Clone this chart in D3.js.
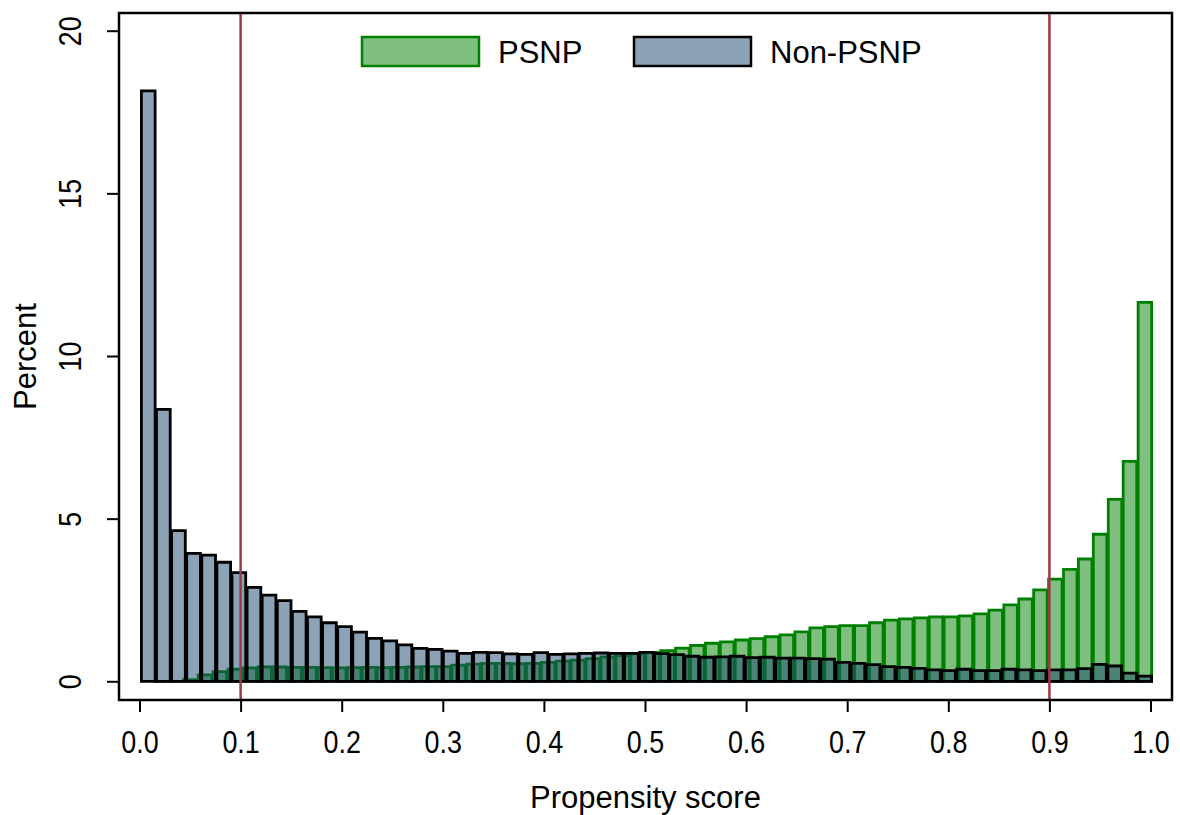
<!DOCTYPE html>
<html lang="en">
<head>
<meta charset="utf-8">
<title>propensity score overlap</title>
<script src="https://cdn.jsdelivr.net/npm/d3@7"></script>
<style>
	body { margin: 0; background: #fff; }
	text { font-family: "Liberation Sans", Arial, Helvetica, sans-serif; fill: #000; }
</style>
</head>
<body>
<script>

// percent of households per propensity-score bin (67 bins each)
var psnpStart = 0.0131, psnpEnd = 1.0018
var psnp = [0, 0, 0.05, 0.2, 0.3, 0.37, 0.41, 0.44, 0.44, 0.43,
	0.43, 0.42, 0.41, 0.42, 0.43, 0.42, 0.43, 0.44, 0.45, 0.45,
	0.5, 0.53, 0.55, 0.55, 0.54, 0.55, 0.58, 0.62, 0.65, 0.7,
	0.75, 0.79, 0.84, 0.89, 0.94, 1.02, 1.1, 1.17, 1.21, 1.27,
	1.31, 1.37, 1.43, 1.52, 1.64, 1.68, 1.71, 1.71, 1.8, 1.88,
	1.92, 1.95, 1.98, 1.98, 2.01, 2.07, 2.19, 2.35, 2.53, 2.81,
	3.14, 3.44, 3.76, 4.52, 5.59, 6.76, 11.65]

var nonStart = 0.0012, nonEnd = 1.0018
var nonPsnp = [18.15, 8.36, 4.63, 3.93, 3.88, 3.66, 3.34, 2.89, 2.65, 2.48,
	2.15, 1.98, 1.8, 1.68, 1.51, 1.32, 1.24, 1.12, 1.01, 0.98,
	0.93, 0.86, 0.89, 0.88, 0.84, 0.83, 0.88, 0.83, 0.84, 0.86,
	0.87, 0.86, 0.86, 0.89, 0.85, 0.82, 0.77, 0.74, 0.75, 0.77,
	0.73, 0.74, 0.71, 0.71, 0.7, 0.68, 0.58, 0.55, 0.51, 0.45,
	0.43, 0.4, 0.35, 0.33, 0.37, 0.33, 0.33, 0.37, 0.35, 0.33,
	0.35, 0.35, 0.39, 0.52, 0.47, 0.25, 0.16]

var xTicks = [0, 0.1, 0.2, 0.3, 0.4, 0.5, 0.6, 0.7, 0.8, 0.9, 1.0]
var yTicks = [0, 5, 10, 15, 20]
var cutoffs = [0.1, 0.9]
var names = ["PSNP", "Non-PSNP"]

var W = 1180, H = 815
var frame = {l: 119, t: 13, r: 1172, b: 700}

var svg = d3.select("body").append("svg")
	.attr("width", W).attr("height", H)

var x = d3.scaleLinear().domain([0, 1]).range([139.5, 1150.5])
var y = d3.scaleLinear().domain([0, 20]).range([681.3, 30.7])

var styles = [
	{fill: "rgba(0,128,0,0.5)", stroke: "#008000"},
	{fill: "rgba(26,71,111,0.5)", stroke: "#000"}
]

var inset = 0.7 // small gap so neighbouring outlines stay apart

function drawBars(vals, start, end, st){
	var w = (end - start) / vals.length
	svg.append("g").selectAll("path")
		.data(vals)
		.enter()
		.append("path")
		.attr("d", function(d, i){
			var x0 = x(start + i*w) + inset, x1 = x(start + (i+1)*w) - inset
			return "M" + x0 + "," + y(0) + "H" + x1 + "V" + y(d) + "H" + x0 + "Z"
		})
		.attr("fill", st.fill)
		.attr("stroke", st.stroke)
		.attr("stroke-width", 2.8)
		.attr("stroke-linejoin", "miter")
}

drawBars(psnp, psnpStart, psnpEnd, styles[0])
drawBars(nonPsnp, nonStart, nonEnd, styles[1])

// common-support cutoffs
svg.selectAll(".cut")
	.data(cutoffs)
	.enter()
	.append("line")
	.attr("x1", function(d){ return x(d) })
	.attr("x2", function(d){ return x(d) })
	.attr("y1", frame.t).attr("y2", frame.b)
	.attr("stroke", "#9e3a48")
	.attr("stroke-width", 2.5)

svg.append("rect")
	.attr("x", frame.l).attr("y", frame.t)
	.attr("width", frame.r - frame.l).attr("height", frame.b - frame.t)
	.attr("fill", "none").attr("stroke", "#000").attr("stroke-width", 2.5)

// x axis
var xAxis = d3.axisBottom(x).tickValues(xTicks).tickSize(12).tickFormat(d3.format(".1f"))
var gx = svg.append("g").attr("transform", "translate(0," + frame.b + ")").call(xAxis)
gx.select(".domain").remove()
gx.selectAll("line").attr("stroke", "#000").attr("stroke-width", 2)
gx.selectAll("text")
	.attr("y", null).attr("dy", null)
	.attr("font-size", 32)
	.attr("transform", "translate(0,53) scale(0.84,1)")

// y axis
var yAxis = d3.axisLeft(y).tickValues(yTicks).tickSize(12)
var gy = svg.append("g").attr("transform", "translate(" + frame.l + ",0)").call(yAxis)
gy.select(".domain").remove()
gy.selectAll("line").attr("stroke", "#000").attr("stroke-width", 2)
gy.selectAll("text")
	.attr("x", null).attr("dy", null)
	.attr("text-anchor", "middle")
	.attr("font-size", 32)
	.attr("transform", "translate(-38,0) rotate(-90) scale(0.84,1)")

// titles
svg.append("text").text("Propensity score")
	.attr("x", (frame.l + frame.r)/2).attr("y", 808)
	.attr("text-anchor", "middle").attr("font-size", 31)
svg.append("text").text("Percent")
	.attr("transform", "translate(36," + (frame.t + frame.b)/2 + ") rotate(-90)")
	.attr("text-anchor", "middle").attr("font-size", 31)

// legend
var leg = svg.append("g")
var legX = [362, 634]
leg.selectAll("rect")
	.data(names)
	.enter()
	.append("rect")
	.attr("x", function(d, i){ return legX[i] })
	.attr("y", 37).attr("width", 117).attr("height", 29)
	.attr("fill", function(d, i){ return styles[i].fill })
	.attr("stroke", function(d, i){ return styles[i].stroke })
	.attr("stroke-width", 2.5)
leg.selectAll("text")
	.data(names)
	.enter()
	.append("text")
	.text(function(d){ return d })
	.attr("x", function(d, i){ return legX[i] + 136 })
	.attr("y", 63)
	.attr("font-size", 31)

</script>
</body>
</html>
